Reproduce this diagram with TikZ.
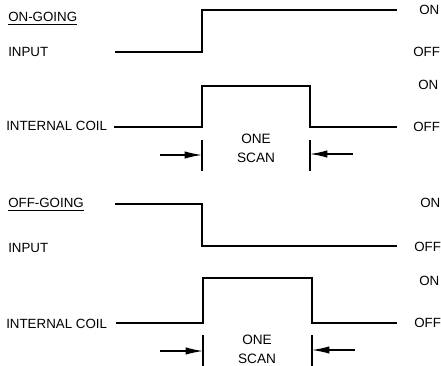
\documentclass[tikz,border=0pt]{standalone}
\usepackage{fontspec}
\setmainfont{Liberation Sans}
\usetikzlibrary{arrows.meta,positioning}

\begin{document}
\begin{tikzpicture}[
  x=0.75pt,y=-0.75pt,
  lbl/.style={anchor=base west,inner sep=0pt,font=\fontsize{10}{12}\selectfont},
  scantext/.style={align=center,inner sep=0pt,font=\fontsize{10.2}{14.2}\selectfont},
  wave/.style={line width=1pt},
  tick/.style={line width=0.9pt},
  arrow/.style={-{Latex[length=13pt,width=5.5pt]},line width=0.9pt}
]
\useasboundingbox (0,0) rectangle (441,366);

% on-going
\node[lbl] (onTitle) at (8,22) {\underline{ON-GOING}};
\node[lbl] (onInput) at (8,57) {INPUT};
\node[lbl] (onCoil) at (6,131) {INTERNAL COIL};
\node[lbl] (onInHi) at (419,15) {ON};
\node[lbl] (onInLo) at (413,57) {OFF};
\node[lbl] (onCoHi) at (418,90) {ON};
\node[lbl] (onCoLo) at (413,132) {OFF};

\coordinate (onInA) at (115,52);
\coordinate (onInB) at (202,10);
\coordinate (onInC) at (397,10);
\draw[wave] (onInA) -| (onInB) -- (onInC);

\coordinate (onCoA) at (114,127);
\coordinate (onCoB) at (202,86);
\coordinate (onCoC) at (310,127);
\coordinate (onCoD) at (397,127);
\draw[wave] (onCoA) -| (onCoB) -| (onCoC) -- (onCoD);

\coordinate (onTkA) at (202,140);
\coordinate (onTkB) at (202,171);
\coordinate (onTkC) at (310,140);
\coordinate (onTkD) at (310,171);
\draw[tick] (onTkA) -- (onTkB);
\draw[tick] (onTkC) -- (onTkD);
\coordinate (onArL) at (160,155);
\coordinate (onArR) at (353,154);
\draw[arrow] (onArL) -- (onArL -| onTkA);
\draw[arrow] (onArR) -- (onArR -| onTkC);
\node[scantext] (onScan) at (256,148.5) {ONE\\SCAN};

% off-going
\node[lbl] (offTitle) at (8,208) {\underline{OFF-GOING}};
\node[lbl] (offInput) at (8,252) {INPUT};
\node[lbl] (offCoil) at (6,328) {INTERNAL COIL};
\node[lbl] (offInHi) at (420,207) {ON};
\node[lbl] (offInLo) at (414,251) {OFF};
\node[lbl] (offCoHi) at (419,285) {ON};
\node[lbl] (offCoLo) at (414,327) {OFF};

\coordinate (offInA) at (115,204);
\coordinate (offInB) at (202,246);
\coordinate (offInC) at (397,246);
\draw[wave] (offInA) -| (offInB) -- (offInC);

\coordinate (offCoA) at (116,323);
\coordinate (offCoB) at (203,278);
\coordinate (offCoC) at (312,323);
\coordinate (offCoD) at (397,323);
\draw[wave] (offCoA) -| (offCoB) -| (offCoC) -- (offCoD);

\coordinate (offTkA) at (203,335);
\coordinate (offTkB) at (203,366);
\coordinate (offTkC) at (312,335);
\coordinate (offTkD) at (312,366);
\draw[tick] (offTkA) -- (offTkB);
\draw[tick] (offTkC) -- (offTkD);
\coordinate (offArL) at (160,351);
\coordinate (offArR) at (355,350);
\draw[arrow] (offArL) -- (offArL -| offTkA);
\draw[arrow] (offArR) -- (offArR -| offTkC);
\node[scantext] (offScan) at (257,349.5) {ONE\\SCAN};
\end{tikzpicture}
\end{document}
